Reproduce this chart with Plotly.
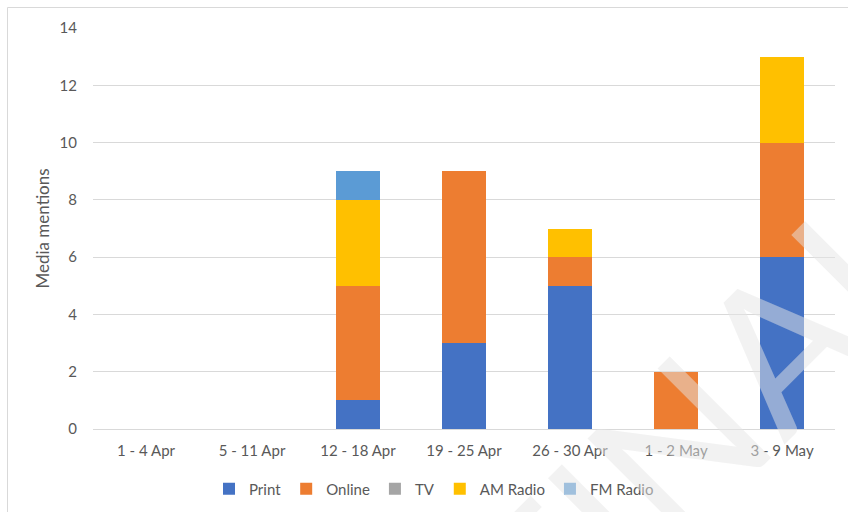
import plotly.graph_objects as go

categories = ["1 - 4 Apr", "5 - 11 Apr", "12 - 18 Apr", "19 - 25 Apr", "26 - 30 Apr", "1 - 2 May", "3 - 9 May"]
print_vals = [0, 0, 1, 3, 5, 0, 6]
online_vals = [0, 0, 4, 6, 1, 2, 4]
tv_vals = [0, 0, 0, 0, 0, 0, 0]
am_vals = [0, 0, 3, 0, 1, 0, 3]
fm_vals = [0, 0, 1, 0, 0, 0, 0]
y_ticks = [0, 2, 4, 6, 8, 10, 12, 14]

series = [
    ("Print", print_vals, "#4472C4"),
    ("Online", online_vals, "#ED7D31"),
    ("TV", tv_vals, "#A5A5A5"),
    ("AM Radio", am_vals, "#FFC000"),
    ("FM Radio", fm_vals, "#5B9BD5"),
]

fig = go.Figure()
for name, vals, color in series:
    fig.add_trace(go.Bar(x=categories, y=vals, name=name, marker=dict(color=color, line=dict(width=0))))

W, H = 848, 512
L, R, T, B = 93, 13, 28, 83
pw, ph = W - L - R, H - T - B

def px(x):
    return (x - L) / pw

def py(y):
    return (H - B - y) / ph

fig.update_layout(
    width=W, height=H,
    margin=dict(l=L, r=R, t=T, b=B, autoexpand=False),
    barmode="stack",
    bargap=0.59,
    plot_bgcolor="white",
    paper_bgcolor="white",
    font=dict(family="Lato, sans-serif", size=15, color="#595959"),
    legend=dict(orientation="h", x=px(434), xanchor="center", y=py(489), yanchor="middle",
                font=dict(size=15, color="#595959"), itemwidth=30, traceorder="normal"),
    yaxis=dict(range=[0, 14], tickvals=y_ticks, showgrid=True, gridcolor="#d9d9d9", gridwidth=1,
               zeroline=False, showline=False, ticks="", ticklen=0, automargin=False,
               ticklabelstandoff=15,
               title=dict(text="Media mentions", font=dict(size=17, color="#595959"), standoff=5)),
    xaxis=dict(showgrid=False, showline=True, linecolor="#d9d9d9", linewidth=1, ticks="", ticklen=0,
               automargin=False, ticklabelstandoff=8),
    showlegend=True,
)

fig.add_shape(type="rect", xref="paper", yref="paper",
              x0=px(7.5), x1=px(900), y0=py(600), y1=py(7.5),
              line=dict(color="#d9d9d9", width=1), fillcolor="rgba(0,0,0,0)", layer="below")

fig.add_annotation(text="FINAL", xref="paper", yref="paper", x=px(700), y=py(420),
                   xanchor="center", yanchor="middle",
                   showarrow=False, textangle=-45,
                   font=dict(family="Lato, sans-serif", size=200, color="rgba(229,229,229,0.5)"))

fig.write_html("out.html")
